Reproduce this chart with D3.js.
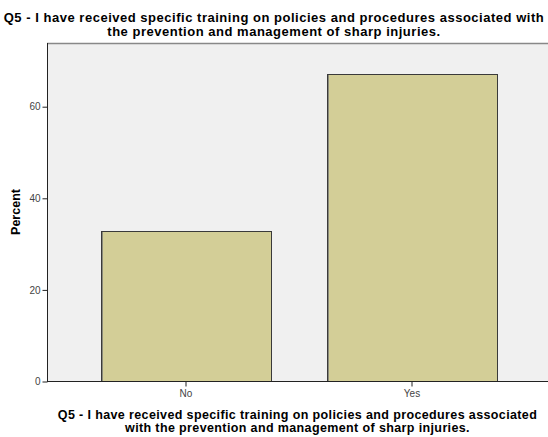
<!DOCTYPE html>
<html>
<head>
<meta charset="utf-8">
<script src="https://cdn.jsdelivr.net/npm/d3@7"></script>
<style>
  body { margin: 0; background: #fff; }
  text { font-family: "Liberation Sans", Arial, sans-serif; }
</style>
</head>
<body>
<svg id="chart" width="548" height="437"></svg>
<script>
// data
var categories = ['No', 'Yes'];
var percents = [32.9, 67.1];
var yTicks = [0, 20, 40, 60];
var titleLines = [
  'Q5 - I have received specific training on policies and procedures associated with',
  'the prevention and management of sharp injuries.'
];
var xTitleLines = [
  'Q5 - I have received specific training on policies and procedures associated',
  'with the prevention and management of sharp injuries.'
];

var svg = d3.select('#chart');

// plot frame
var plotLeft = 47, plotRight = 560, plotTop = 43, plotBottom = 381.5;

var x = d3.scaleBand()
  .domain(categories)
  .range([73, 525])
  .paddingInner(0.248)
  .paddingOuter(0.124);

var y = d3.scaleLinear()
  .domain([0, 60])
  .range([plotBottom, 106.7]);

// background
svg.append('rect')
  .attr('x', plotLeft).attr('y', plotTop)
  .attr('width', plotRight - plotLeft).attr('height', plotBottom - plotTop)
  .attr('fill', '#f0f0f0');

// top border
svg.append('line')
  .attr('x1', plotLeft).attr('x2', plotRight)
  .attr('y1', plotTop + 0.5).attr('y2', plotTop + 0.5)
  .attr('stroke', '#888').attr('stroke-width', 1.5);

// bars
svg.selectAll('.bar')
  .data(categories)
  .enter().append('rect')
  .attr('class', 'bar')
  .attr('x', function (d) { return Math.round(x(d)) + 0.5; })
  .attr('y', function (d, i) { return Math.round(y(percents[i])) + 0.5; })
  .attr('width', Math.round(x.bandwidth()))
  .attr('height', function (d, i) { return plotBottom - Math.round(y(percents[i])) - 0.5; })
  .attr('fill', '#d3ce97')
  .attr('stroke', '#3a3a3a')
  .attr('stroke-width', 1);

// subtle shadow on the left edge of each bar
svg.selectAll('.shade')
  .data(categories)
  .enter().append('line')
  .attr('class', 'shade')
  .attr('x1', function (d) { return Math.round(x(d)) + 1.5; })
  .attr('x2', function (d) { return Math.round(x(d)) + 1.5; })
  .attr('y1', function (d, i) { return Math.round(y(percents[i])) + 1; })
  .attr('y2', plotBottom)
  .attr('stroke', '#8a8a7a').attr('stroke-width', 1);

// y axis
var yAxis = svg.append('g')
  .attr('transform', 'translate(' + (plotLeft + 0.5) + ',0)')
  .call(d3.axisLeft(y).tickValues(yTicks).tickSize(5).tickSizeOuter(0));
yAxis.select('.domain').remove();
yAxis.append('line')
  .attr('x1', 0).attr('x2', 0)
  .attr('y1', plotTop).attr('y2', plotBottom)
  .attr('stroke', '#222');
yAxis.selectAll('.tick line').attr('stroke', '#222');
yAxis.selectAll('.tick text')
  .attr('x', -7)
  .attr('fill', '#444')
  .style('font-size', '10px')
  .style('font-family', '"Liberation Sans", Arial, sans-serif');

// x axis
var xAxis = svg.append('g')
  .attr('transform', 'translate(0,' + plotBottom + ')')
  .call(d3.axisBottom(x).tickSize(5).tickSizeOuter(0));
xAxis.select('.domain').remove();
xAxis.append('line')
  .attr('x1', plotLeft).attr('x2', plotRight)
  .attr('y1', 0).attr('y2', 0)
  .attr('stroke', '#222');
xAxis.selectAll('.tick line').attr('stroke', '#222');
xAxis.selectAll('.tick text')
  .attr('y', 8)
  .attr('fill', '#444')
  .style('font-size', '10px')
  .style('font-family', '"Liberation Sans", Arial, sans-serif');

// stretch a two-line title so its first line spans the given width
function twoLineTitle(lines, cx, y0, lineGap, size, targetWidth) {
  var g = svg.append('g');
  var t = g.selectAll('text')
    .data(lines)
    .enter().append('text')
    .attr('x', cx)
    .attr('y', function (d, i) { return y0 + i * lineGap; })
    .attr('text-anchor', 'middle')
    .style('font-size', size + 'px')
    .style('font-weight', 'bold')
    .text(function (d) { return d; });
  var w = t.node().getComputedTextLength();
  var ls = (targetWidth - w) / (lines[0].length - 1);
  t.style('letter-spacing', ls + 'px');
  return g;
}

twoLineTitle(titleLines, 274, 21.5, 14.5, 13, 540);
twoLineTitle(xTitleLines, 297.5, 418.5, 13.5, 12.5, 479);

svg.append('text')
  .attr('transform', 'translate(19.5,212) rotate(-90)')
  .attr('text-anchor', 'middle')
  .style('font-size', '12.5px')
  .style('font-weight', 'bold')
  .text('Percent');
</script>
</body>
</html>
